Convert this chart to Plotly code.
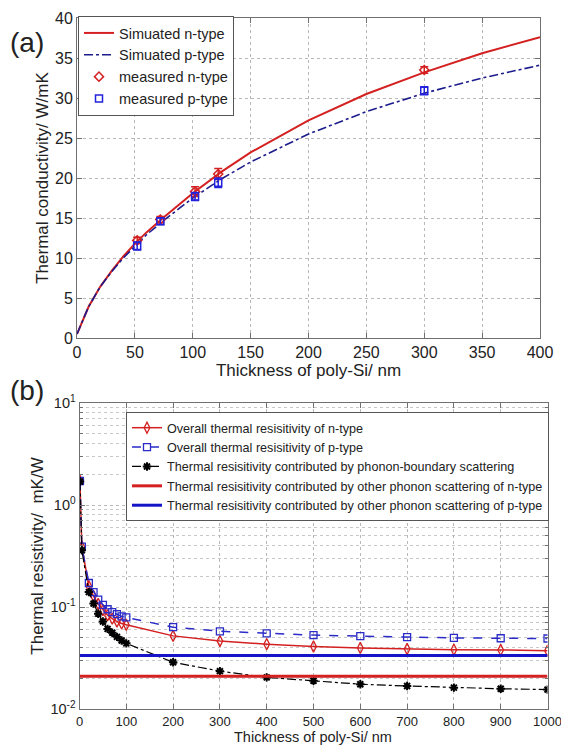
import plotly.graph_objects as go

# ---------------- Panel (a) data ----------------
sim_x = [0, 10, 20, 30, 40, 50, 60, 75, 100, 125, 150, 200, 250, 300, 350, 400]
sim_n = [0.5, 3.9, 6.4, 8.4, 10.2, 11.8, 13.2, 15.1, 18.1, 20.8, 23.2, 27.2, 30.5, 33.2, 35.6, 37.6]
sim_p = [0.5, 3.9, 6.4, 8.3, 10.0, 11.5, 12.9, 14.7, 17.5, 19.9, 22.0, 25.5, 28.3, 30.6, 32.5, 34.1]

meas_x = [52, 72, 102, 122, 300]
meas_n = [12.2, 14.8, 18.3, 20.5, 33.5]
meas_n_err = [0.4, 0.4, 0.6, 0.7, 0.4]
meas_p = [11.5, 14.6, 17.7, 19.4, 30.9]
meas_p_err = [0.5, 0.4, 0.5, 0.6, 0.5]

# ---------------- Panel (b) data ----------------
res_x = [1, 5, 20, 30, 40, 50, 60, 70, 80, 90, 100, 200, 300, 400, 500, 600, 700, 800, 900, 1000]
res_n = [1.72, 0.39, 0.160, 0.128, 0.107, 0.093, 0.083, 0.077, 0.072, 0.069, 0.067,
         0.0521, 0.0464, 0.0432, 0.0410, 0.0397, 0.0388, 0.0382, 0.0379, 0.0373]
res_p = [1.72, 0.39, 0.172, 0.140, 0.118, 0.105, 0.095, 0.089, 0.085, 0.081, 0.079,
         0.0634, 0.0578, 0.0551, 0.0530, 0.0518, 0.0506, 0.0498, 0.0494, 0.0491]
res_b = [1.70, 0.36, 0.140, 0.108, 0.086, 0.072, 0.061, 0.056, 0.051, 0.047, 0.044,
         0.0287, 0.0235, 0.0204, 0.0189, 0.0175, 0.0168, 0.0162, 0.0158, 0.0155]
other_x = [0, 1000]
other_n = [0.021, 0.021]
other_p = [0.0335, 0.0335]

RED = "#d42020"
BLUE_A = "#1c1c8c"
BLUE = "#2b2bc8"
FONT = "Liberation Sans"

fig = go.Figure()

# ---- (a)
fig.add_trace(go.Scatter(x=sim_x, y=sim_n, mode="lines", name="Simuated n-type",
                         line=dict(color=RED, width=2), xaxis="x", yaxis="y", legend="legend"))
fig.add_trace(go.Scatter(x=sim_x, y=sim_p, mode="lines", name="Simuated p-type",
                         line=dict(color=BLUE_A, width=1.6, dash="dashdot"), xaxis="x", yaxis="y", legend="legend"))
fig.add_trace(go.Scatter(x=meas_x, y=meas_n, mode="markers", name="measured n-type",
                         marker=dict(symbol="diamond-open", color=RED, size=7, line=dict(width=1.5)),
                         error_y=dict(type="data", array=meas_n_err, color=RED, thickness=1.5, width=4),
                         xaxis="x", yaxis="y", legend="legend"))
fig.add_trace(go.Scatter(x=meas_x, y=meas_p, mode="markers", name="measured p-type",
                         marker=dict(symbol="square-open", color="#2222dd", size=7, line=dict(width=1.5)),
                         error_y=dict(type="data", array=meas_p_err, color="#2222dd", thickness=1.5, width=4),
                         xaxis="x", yaxis="y", legend="legend"))

# ---- (b)
fig.add_trace(go.Scatter(x=res_x, y=res_n, mode="lines+markers", name="Overall thermal resisitivity of n-type",
                         line=dict(color=RED, width=1.5),
                         marker=dict(symbol="diamond-tall-open", color=RED, size=8, line=dict(width=1.3)),
                         xaxis="x2", yaxis="y2", legend="legend2"))
fig.add_trace(go.Scatter(x=res_x, y=res_p, mode="lines+markers", name="Overall thermal resisitivity of p-type",
                         line=dict(color=BLUE, width=1.5, dash="dash"),
                         marker=dict(symbol="square-open", color=BLUE, size=7, line=dict(width=1.3)),
                         xaxis="x2", yaxis="y2", legend="legend2"))
fig.add_trace(go.Scatter(x=res_x, y=res_b, mode="lines+markers",
                         name="Thermal resisitivity contributed by phonon-boundary scattering",
                         line=dict(color="black", width=1.2, dash="dashdot"),
                         marker=dict(symbol="asterisk-open", color="black", size=7, line=dict(width=2, color="black")),
                         xaxis="x2", yaxis="y2", legend="legend2"))
fig.add_trace(go.Scatter(x=other_x, y=other_n, mode="lines",
                         name="Thermal resisitivity contributed by other phonon scattering of n-type",
                         line=dict(color=RED, width=3), xaxis="x2", yaxis="y2", legend="legend2"))
fig.add_trace(go.Scatter(x=other_x, y=other_p, mode="lines",
                         name="Thermal resisitivity contributed by other phonon scattering of p-type",
                         line=dict(color="#1515c8", width=3), xaxis="x2", yaxis="y2", legend="legend2"))

W, H = 561, 746
def px_x(v):
    return v / W
def px_y(v):
    return 1 - v / H

def axis_style(tick_size):
    return dict(showline=True, linecolor="#707070", linewidth=1, mirror="ticks",
                ticks="inside", ticklen=5, tickcolor="#707070",
                showgrid=True, gridcolor="#b8b8b8", griddash="dot", gridwidth=1,
                zeroline=False, ticklabeloverflow="allow",
                tickfont=dict(family=FONT, size=tick_size, color="#222"))

fig.update_layout(
    width=W, height=H,
    margin=dict(l=0, r=0, t=0, b=0, autoexpand=False),
    paper_bgcolor="white", plot_bgcolor="white",
    font=dict(family=FONT, color="#222"),
    xaxis=dict(domain=[px_x(77), px_x(540)], range=[0, 400], dtick=50, anchor="y",
               title=dict(text="Thickness of poly-Si/ nm", font=dict(size=17), standoff=0),
               **axis_style(16)),
    yaxis=dict(domain=[px_y(338), px_y(18)], range=[0, 40], dtick=5, anchor="x",
               title=dict(text="Thermal conductivity/ W/mK", font=dict(size=17), standoff=2),
               **axis_style(16)),
    xaxis2=dict(domain=[px_x(79.5), px_x(547.5)], range=[0, 1000], dtick=100, anchor="y2",
                **axis_style(13)),
    yaxis2=dict(domain=[px_y(709), px_y(403)], type="log", range=[-2, 1], anchor="x2",
                tickvals=[0.01, 0.1, 1, 10],
                ticktext=["10<sup>-2</sup>", "10<sup>-1</sup>", "10<sup>0</sup>", "10<sup>1</sup>"],
                minor=dict(dtick="D1", showgrid=True, gridcolor="#c8c8c8", griddash="dot",
                           ticks="inside", ticklen=3, tickcolor="#707070"),
                title=dict(text="Thermal resistivity/  mK/W", font=dict(size=17), standoff=2),
                **axis_style(14.5)),
    legend=dict(x=px_x(78), y=px_y(16), xanchor="left", yanchor="top",
                bgcolor="white", bordercolor="#555", borderwidth=1,
                font=dict(family=FONT, size=14.5, color="#222"),
                tracegroupgap=0, itemwidth=30),
    legend2=dict(x=px_x(126), y=px_y(412), xanchor="left", yanchor="top",
                 bgcolor="white", bordercolor="#555", borderwidth=1,
                 font=dict(family=FONT, size=12.6, color="#222"),
                 tracegroupgap=0, itemwidth=30),
    annotations=[
        dict(text="(a)", x=px_x(8), y=px_y(42), xref="paper", yref="paper",
             xanchor="left", yanchor="middle", showarrow=False,
             font=dict(family=FONT, size=28, color="#222")),
        dict(text="(b)", x=px_x(8), y=px_y(390), xref="paper", yref="paper",
             xanchor="left", yanchor="middle", showarrow=False,
             font=dict(family=FONT, size=28, color="#222")),
        dict(text="Thickness of poly-Si/ nm", x=px_x(313), y=px_y(746), xref="paper", yref="paper",
             xanchor="center", yanchor="bottom", showarrow=False, borderpad=0,
             font=dict(family=FONT, size=14.5, color="#222")),
    ],
)

fig.write_html("out.html", config={"displayModeBar": False},
               post_script="document.body.style.margin='0';document.body.style.overflow='hidden';")
